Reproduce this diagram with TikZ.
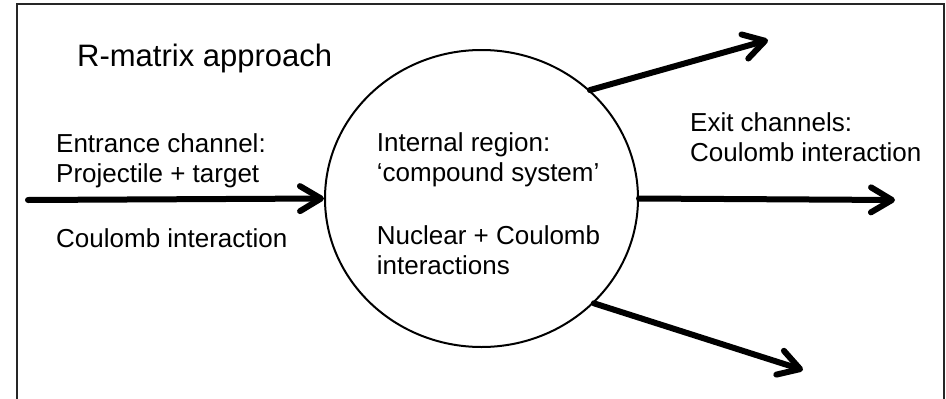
\documentclass[tikz,border=0pt]{standalone}
\usepackage{fontspec}
\setmainfont{Liberation Sans}
\usetikzlibrary{arrows.meta,shapes.geometric}
\begin{document}
\begin{tikzpicture}[x=1pt,y=-1pt,
  txt/.style={inner sep=0pt,anchor=base west,align=left,font=\fontsize{26}{30}\selectfont},
  flow/.style={line width=6pt,line cap=round,-{Straight Barb[length=21pt,width=25pt,round]}}]
\useasboundingbox (0,0) rectangle (946,399);
\draw[line width=1.5pt,black!85] (17,4) rectangle (944,410);
\node[ellipse,draw,line width=2pt,minimum width=313pt,minimum height=297pt,inner sep=0pt] (c) at (481.5,198.5) {};
\node[inner sep=0pt,anchor=base west,font=\fontsize{31}{36}\selectfont] (title) at (77,66.5) {R-matrix approach};
\node[txt] (entr) at (56,182.7) {Entrance channel:\\Projectile + target};
\node[txt] (coul) at (56,247.7) {Coulomb interaction};
\node[txt] (inner) at (376.7,274) {Internal region:\\‘compound system’\\[33pt]Nuclear + Coulomb\\interactions};
\node[txt] (exit) at (690,161.7) {Exit channels:\\Coulomb interaction};
\coordinate (src) at (28,200);
\coordinate (out1) at (768,40);
\coordinate (out2) at (895,200);
\coordinate (out3) at (803,370);
\draw[flow] (src) -- (c.west);
\draw[flow] (c.45) -- (out1);
\draw[flow] (c.east) -- (out2);
\draw[flow] (c.-43) -- (out3);
\end{tikzpicture}
\end{document}
